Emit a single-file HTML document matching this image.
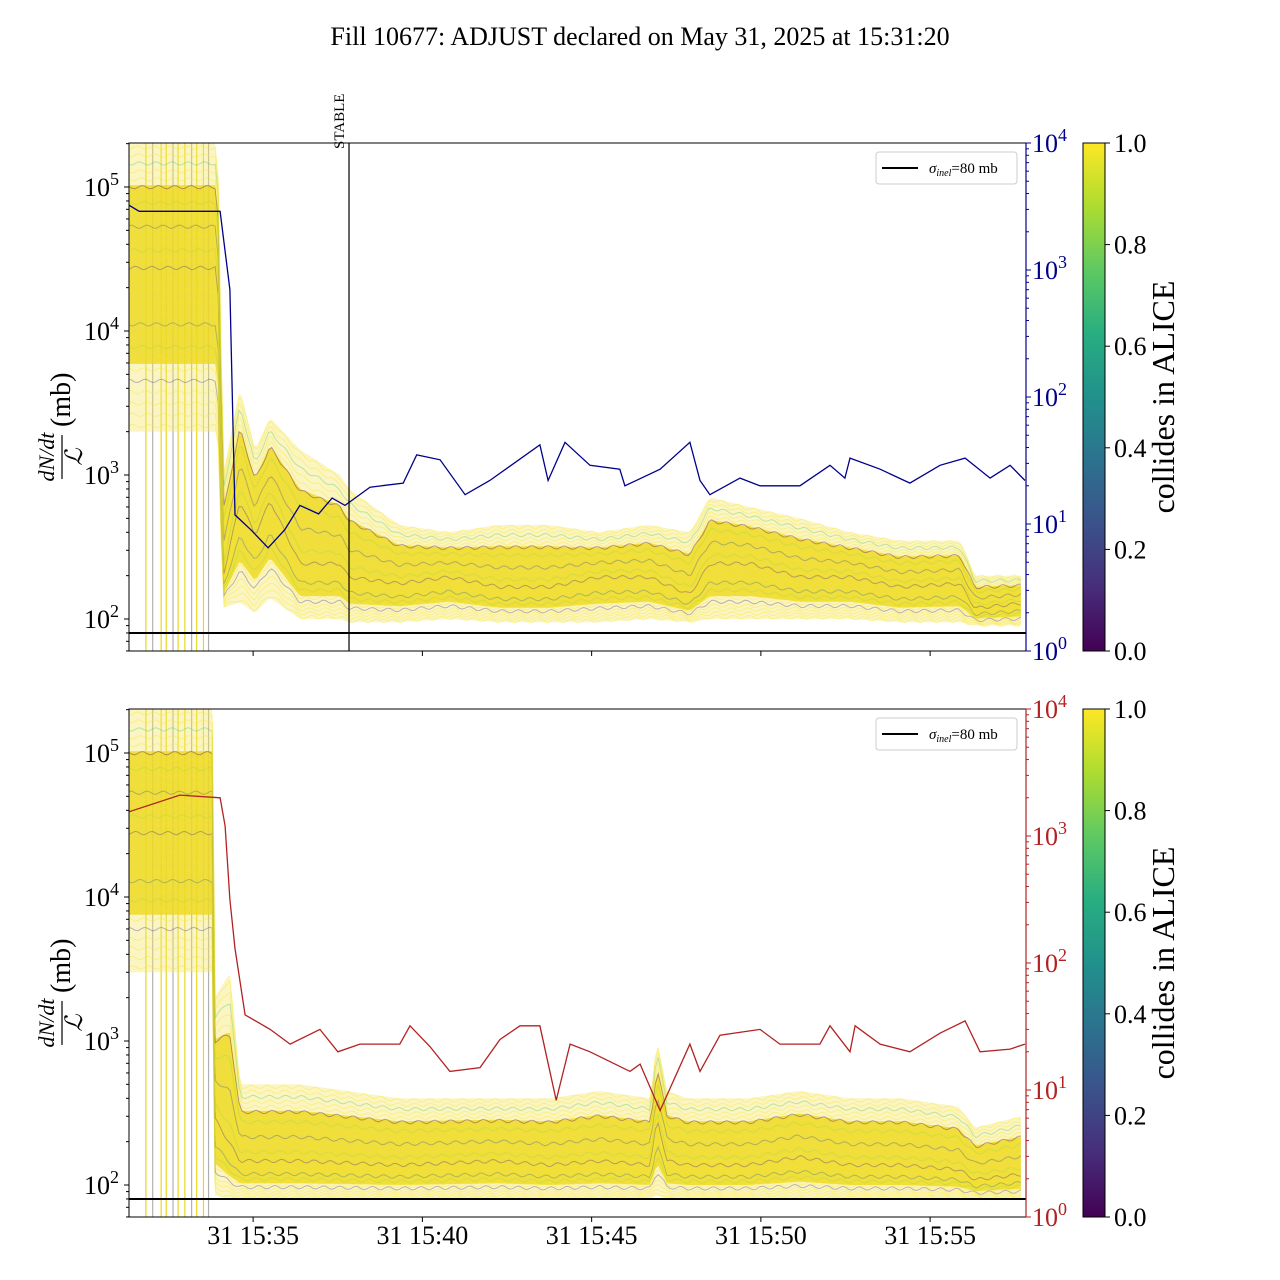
<!DOCTYPE html>
<html><head><meta charset="utf-8"><style>
html,body{margin:0;padding:0;background:#fff;}
svg{display:block;font-family:"Liberation Serif","DejaVu Serif",serif;}
</style></head><body>
<svg id="chart" width="1280" height="1280" viewBox="0 0 1280 1280">
<defs>
<linearGradient id="viridis" x1="0" y1="1" x2="0" y2="0">
<stop offset="0" stop-color="#440154"/><stop offset="0.125" stop-color="#472d7b"/><stop offset="0.25" stop-color="#3b528b"/><stop offset="0.375" stop-color="#2c728e"/><stop offset="0.5" stop-color="#21918c"/><stop offset="0.625" stop-color="#28ae80"/><stop offset="0.75" stop-color="#5ec962"/><stop offset="0.875" stop-color="#addc30"/><stop offset="1" stop-color="#fde725"/>
</linearGradient>
<clipPath id="clipTop"><rect x="129" y="143" width="897" height="508"/></clipPath>
<clipPath id="clipBot"><rect x="129" y="709" width="897" height="508"/></clipPath>
</defs>
<text x="640" y="45" text-anchor="middle" font-size="26">Fill 10677: ADJUST declared on May 31, 2025 at 15:31:20</text>
</svg>
<script>
// ---- data (time in minutes after 15:31:20) ----
const xTickLabels = ["31 15:35","31 15:40","31 15:45","31 15:50","31 15:55"];
const xTickTimes = [3.667,8.667,13.667,18.667,23.667];
const stableTime = 6.5;
const sigmaInel = 80;
const spikeTimes = [0.5,0.7,0.95,1.1,1.3,1.45,1.65,1.85,2.0,2.2,2.35];
// top panel luminosity (right axis)
const topLumT = [0,0.3,2.69,2.98,3.13,3.6,4.11,4.6,5.05,5.6,6.0,6.38,7.12,8.1,8.5,9.19,9.93,10.66,12.14,12.38,12.88,13.62,14.5,14.65,15.69,16.57,16.87,17.16,18.05,18.64,19.82,20.71,21.15,21.3,22.19,23.07,23.96,24.7,25.44,26.03,26.47];
const topLumV = [3240,2900,2900,700,11.8,9,6.5,9,14,12,16,14,19.5,21,35,32,17,22,42,22,44,29,27,20,27,44,22,17,23,20,20,29,23,33,27,21,29,33,23,29,22];
// bottom panel luminosity (right axis)
const botLumT = [0,1.5,2.69,2.84,2.98,3.13,3.43,4.17,4.76,5.64,6.17,6.82,8.0,8.3,8.89,9.48,10.37,10.96,11.55,12.14,12.62,13.03,13.62,14.8,15.1,15.69,16.57,16.87,17.46,18.64,19.23,20.41,20.71,21.3,21.45,22.19,23.07,23.96,24.7,25.14,26.03,26.47];
const botLumV = [1550,2100,2000,1200,315,130,39,30,23,30,20,23,23,32,22,14,15,25,32,32,8.3,23,20,14,16,6.9,23,14,27,30,23,23,32,20,32,23,20,28,35,20,21,23];
// band envelopes dN/dt/L (mb)
const topBandT = [0,2.5,2.62,2.78,3.28,3.72,4.17,5.05,6.23,6.5,7.98,9.45,10.93,12.41,13.88,15.36,16.57,17.16,18.34,19.82,21.3,22.77,24.55,24.99,26.35];
const topUpper = [200000,200000,200000,1000,4000,1500,2500,1500,1000,800,450,400,450,450,400,450,400,700,600,500,400,350,350,200,200];
const topMid   = [30000,30000,30000,200,700,400,700,250,250,200,180,200,170,170,200,200,150,250,250,200,200,170,180,120,130];
const topLower = [2000,2000,2000,120,130,110,140,100,100,95,95,100,95,95,95,100,95,100,100,100,100,95,95,90,90];
const botBandT = [0,2.5,2.54,2.98,3.28,5.05,7.98,10.9,12.4,13.9,15.4,15.6,15.9,16.5,18.3,19.8,21.3,22.8,24.5,25.0,26.35];
const botUpper = [200000,200000,2000,3000,500,500,400,400,400,450,400,1000,450,400,400,450,400,400,350,250,300];
const botMid   = [30000,30000,300,200,150,150,140,150,140,150,140,300,150,140,140,160,140,140,130,110,120];
const botLower = [3000,3000,85,80,80,80,80,80,80,80,80,85,80,80,80,80,80,80,80,80,80];
const lineColorVals = [1,1,0.95,1,0.15,1,1,0.9,1,0.4,1,1,0.98,1,0.1,1,0.85,1,1,0.3,1,1,0.92,1,0.05,1,1,0.7,1,1];
// ---- helpers ----
const svg = document.getElementById('chart');
const NS = 'http://www.w3.org/2000/svg';
const X0 = 129, X1 = 1026, PX_PER_MIN = 33.85;
const xS = t => X0 + t*PX_PER_MIN;
const yL = (v,top) => top + 44 + (5 - Math.log10(v))*144;
const yR = (v,top) => top + 508 - Math.log10(v)*127;
function mk(tag, attrs, parent){ const e=document.createElementNS(NS,tag); for(const k in attrs) e.setAttribute(k,attrs[k]); (parent||svg).appendChild(e); return e; }
function interp(ts, vs, t){ if(t<=ts[0]) return vs[0]; for(let i=1;i<ts.length;i++){ if(t<=ts[i]){ const f=(t-ts[i-1])/(ts[i]-ts[i-1]); return Math.pow(10, Math.log10(vs[i-1])*(1-f)+Math.log10(vs[i])*f);} } return vs[vs.length-1]; }
const vir = ['#440154','#472d7b','#3b528b','#2c728e','#21918c','#28ae80','#5ec962','#addc30','#fde725'];
function viridis(c){ return vir[Math.round(c*8)]; }

function panel(top, clipId, bandT, up, mid, lo, lumT, lumV, lumColor, suffix){
  const g = mk('g',{'clip-path':'url(#'+clipId+')'});
  
  
  spikeTimes.forEach((t,i)=>{
    const l = mk('line',{x1:xS(t),x2:xS(t),y1:top,y2:top+508,stroke:i%3===1?'#b0b0b0':'#e8d820','stroke-width':1.2},g);
    
    
  });
  const tmax = bandT[bandT.length-1];
  const steps = 300;
  const bandPts = (frac)=>{ let d=''; for(let s=0;s<=steps;s++){ const t=tmax*s/steps; const a=Math.log10(interp(bandT,lo,t)), m=Math.log10(interp(bandT,mid,t)), b=Math.log10(interp(bandT,up,t)); let lv = frac<0.5 ? a+(m-a)*frac*2 : m+(b-m)*(frac-0.5)*2; const wig = Math.sin(t*13.1+frac*11)*0.012; d += (s?'L':'M')+xS(t).toFixed(1)+','+yL(Math.pow(10,lv+wig),top).toFixed(1); } return d; };
  let env=''; for(let s=0;s<=steps;s++){const t=tmax*s/steps; env+=(s?'L':'M')+xS(t).toFixed(1)+','+yL(interp(bandT,up,t),top).toFixed(1);} for(let s=steps;s>=0;s--){const t=tmax*s/steps; env+='L'+xS(t).toFixed(1)+','+yL(interp(bandT,lo,t),top).toFixed(1);}
  const ef = mk('path',{d:env+'Z',fill:'#f3e56a','fill-opacity':0.4,stroke:'none'},g);
  
  
  let core=''; for(let s=0;s<=steps;s++){const t=tmax*s/steps; const m=interp(bandT,mid,t),b=interp(bandT,up,t); core+=(s?'L':'M')+xS(t).toFixed(1)+','+yL(Math.pow(m,0.35)*Math.pow(b,0.65),top).toFixed(1);} for(let s=steps;s>=0;s--){const t=tmax*s/steps; const a=interp(bandT,lo,t),m=interp(bandT,mid,t); core+='L'+xS(t).toFixed(1)+','+yL(Math.pow(a,0.6)*Math.pow(m,0.4),top).toFixed(1);}
  const cf = mk('path',{d:core+'Z',fill:'#ecd81c','fill-opacity':0.8,stroke:'none'},g);
  
  
  lineColorVals.forEach((c,i)=>{
    const p = mk('path',{d:bandPts((i+0.5)/lineColorVals.length),fill:'none',stroke:viridis(c),'stroke-opacity':c<0.5?0.35:0.4,'stroke-width':1},g);
    
    
  });
  const sl = mk('line',{x1:X0,x2:X1,y1:yL(sigmaInel,top),y2:yL(sigmaInel,top),stroke:'#000','stroke-width':2},g);
  
  
  let d=''; lumT.forEach((t,i)=>{ d+=(i?'L':'M')+xS(t).toFixed(1)+','+yR(lumV[i],top).toFixed(1); });
  const lp = mk('path',{d:d,fill:'none',stroke:lumColor,'stroke-width':1.3},g);
  
  
  const fr = mk('rect',{x:X0,y:top,width:X1-X0,height:508,fill:'none',stroke:'#000','stroke-width':1});
  
  
  [2,3,4,5].forEach(e=>{ const y=yL(Math.pow(10,e),top);
    mk('line',{x1:X0-5,x2:X0,y1:y,y2:y,stroke:'#000'});
    const t = mk('text',{x:X0-10,y:y+9,'text-anchor':'end','font-size':26});
    
    
    t.innerHTML = '10<tspan dy="-11" font-size="18">'+e+'</tspan>';
    for(let m=2;m<10;m++){ const ym=yL(m*Math.pow(10,e),top); if(ym>=top && ym<=top+508) mk('line',{x1:X0-3,x2:X0,y1:ym,y2:ym,stroke:'#000'}); }
  });
  for(let m=6;m<10;m++){ mk('line',{x1:X0-3,x2:X0,y1:yL(m*10,top),y2:yL(m*10,top),stroke:'#000'}); }
  [0,1,2,3,4].forEach(e=>{ const y=yR(Math.pow(10,e),top);
    mk('line',{x1:X1,x2:X1+5,y1:y,y2:y,stroke:lumColor});
    const t = mk('text',{x:X1+6,y:y+9,'font-size':26,fill:lumColor});
    
    
    t.innerHTML = '10<tspan dy="-11" font-size="18">'+e+'</tspan>';
    if(e<4) for(let m=2;m<10;m++){ const ym=yR(m*Math.pow(10,e),top); mk('line',{x1:X1,x2:X1+3,y1:ym,y2:ym,stroke:lumColor}); }
  });
  mk('line',{x1:X1,x2:X1,y1:top,y2:top+508,stroke:lumColor,'stroke-width':1.2});
  xTickTimes.forEach(t=>{ mk('line',{x1:xS(t),x2:xS(t),y1:top+508,y2:top+513,stroke:'#000'}); });
  const yl = mk('g',{transform:'translate(62,'+(top+254)+') rotate(-90)'});
  
  
  mk('text',{x:-60,y:-8,'font-size':22,'font-style':'italic','text-anchor':'middle'},yl).textContent='dN/dt';
  mk('line',{x1:-82,x2:-38,y1:0,y2:0,stroke:'#000','stroke-width':1.2},yl);
  mk('text',{x:-60,y:20,'font-size':24,'font-style':'italic','text-anchor':'middle'},yl).textContent='ℒ';
  mk('text',{x:-30,y:8,'font-size':28},yl).textContent='(mb)';
  const lg = mk('g',{});
  
  
  mk('rect',{x:876,y:top+9,width:141,height:32,rx:3,fill:'#fff',stroke:'#ccc'},lg);
  mk('line',{x1:882,x2:918,y1:top+25,y2:top+25,stroke:'#000','stroke-width':2},lg);
  const lt = mk('text',{x:929,y:top+30,'font-size':15},lg);
  lt.innerHTML='<tspan font-style="italic">σ</tspan><tspan font-style="italic" font-size="10" dy="3">inel</tspan><tspan dy="-3">=80 mb</tspan>';
  const cb = mk('rect',{x:1083,y:top,width:22,height:508,fill:'url(#viridis)',stroke:'#000','stroke-width':1});
  
  
  ['0.0','0.2','0.4','0.6','0.8','1.0'].forEach((s,i)=>{ const y=top+508-i*101.6; mk('line',{x1:1105,x2:1110,y1:y,y2:y,stroke:'#000'});
    const t=mk('text',{x:1114,y:y+9,'font-size':26}); t.textContent=s;
    
     });
  const ct = mk('text',{x:0,y:0,'font-size':32,'text-anchor':'middle',transform:'translate(1174,'+(top+254)+') rotate(-90)'});
  ct.textContent='collides in ALICE';
  
  
}
panel(143,'clipTop',topBandT,topUpper,topMid,topLower,topLumT,topLumV,'#00008b','top');
panel(709,'clipBot',botBandT,botUpper,botMid,botLower,botLumT,botLumV,'#b22222','bottom');
const st = mk('line',{x1:xS(stableTime),x2:xS(stableTime),y1:143,y2:651,stroke:'#000','stroke-width':1.2});


const stt = mk('text',{x:0,y:0,'font-size':15,transform:'translate('+(xS(stableTime)-5)+',149) rotate(-90)'});
stt.textContent='STABLE';


xTickLabels.forEach((s,i)=>{ const t=mk('text',{x:xS(xTickTimes[i]),y:1244,'text-anchor':'middle','font-size':26}); t.textContent=s;
  
   });
</script>
</body></html>
